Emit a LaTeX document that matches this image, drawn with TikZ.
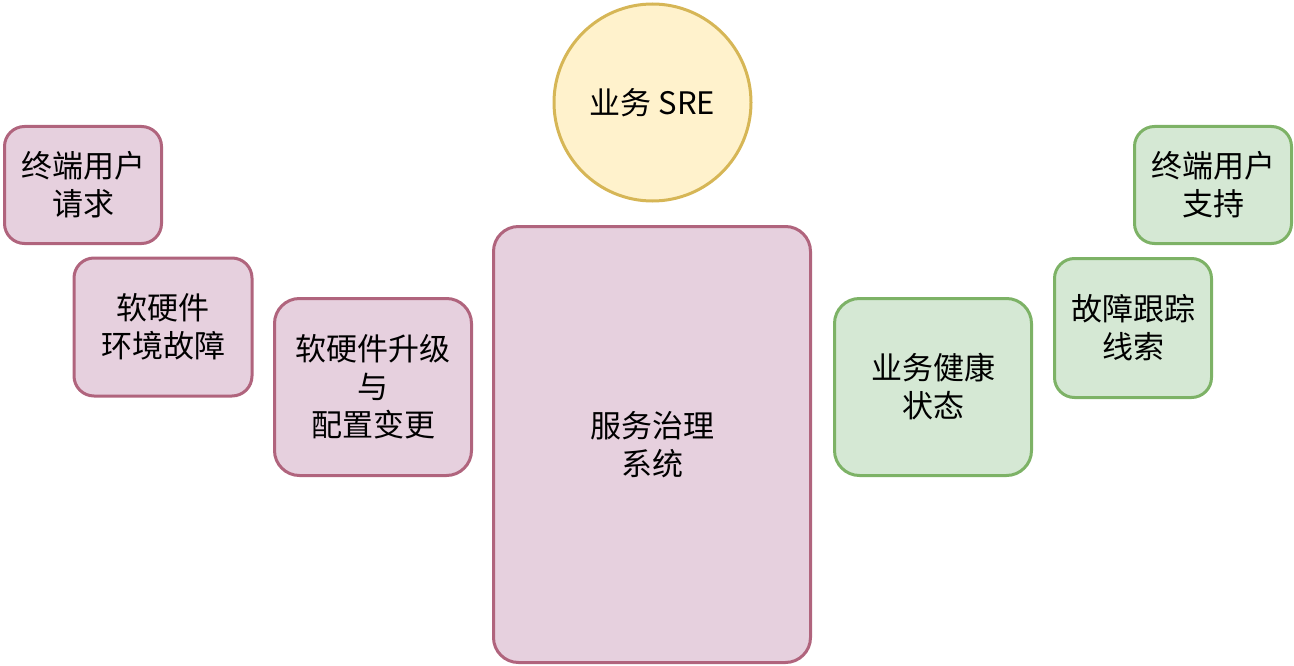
\documentclass[tikz,border=0pt]{standalone}
\usepackage{fontspec}
\setmainfont{Noto Sans CJK SC}
\usetikzlibrary{positioning}
\definecolor{pinkfill}{HTML}{E6D0DE}
\definecolor{pinkline}{HTML}{B0647D}
\definecolor{greenfill}{HTML}{D5E8D4}
\definecolor{greenline}{HTML}{7DB266}
\definecolor{yellowfill}{HTML}{FFF2CC}
\definecolor{yellowline}{HTML}{D6B656}

\begin{document}
\begin{tikzpicture}[
  x=1pt, y=-1pt,
  font=\fontsize{31}{38}\selectfont,
  card/.style={
    rectangle, rounded corners=20pt, line width=3pt,
    align=center, inner sep=0pt
  },
  pinkcard/.style={card, fill=pinkfill, draw=pinkline},
  greencard/.style={card, fill=greenfill, draw=greenline},
  rolecircle/.style={
    circle, minimum size=197pt, inner sep=0pt, line width=3pt,
    fill=yellowfill, draw=yellowline
  }
]

% Page frame
\useasboundingbox (0,0) rectangle (1294,666);

% ===== Role =====
\node[rolecircle] (sre) at (652.5,102.5) {业务 SRE};

% ===== Inputs (left) =====
\node[pinkcard, minimum width=157pt, minimum height=117pt] (userreq) at (83,185) {终端用户\\请求};
\node[pinkcard, minimum width=178pt, minimum height=138pt] (envfault) at (163,327) {软硬件\\环境故障};
\node[pinkcard, minimum width=197pt, minimum height=177pt, rounded corners=25pt] (change) at (373,387) {软硬件升级\\与\\配置变更};

% ===== Core system =====
\node[pinkcard, minimum width=317pt, minimum height=436pt, rounded corners=25pt] (govern) at (652,444.5) {服务治理\\系统};

% ===== Outputs (right) =====
\node[greencard, minimum width=197pt, minimum height=177pt, rounded corners=25pt] (health) at (933,387) {业务健康\\状态};
\node[greencard, minimum width=157pt, minimum height=139pt] (trace) at (1133,328) {故障跟踪\\线索};
\node[greencard, minimum width=157pt, minimum height=117pt] (usersup) at (1213,185) {终端用户\\支持};

\end{tikzpicture}
\end{document}
